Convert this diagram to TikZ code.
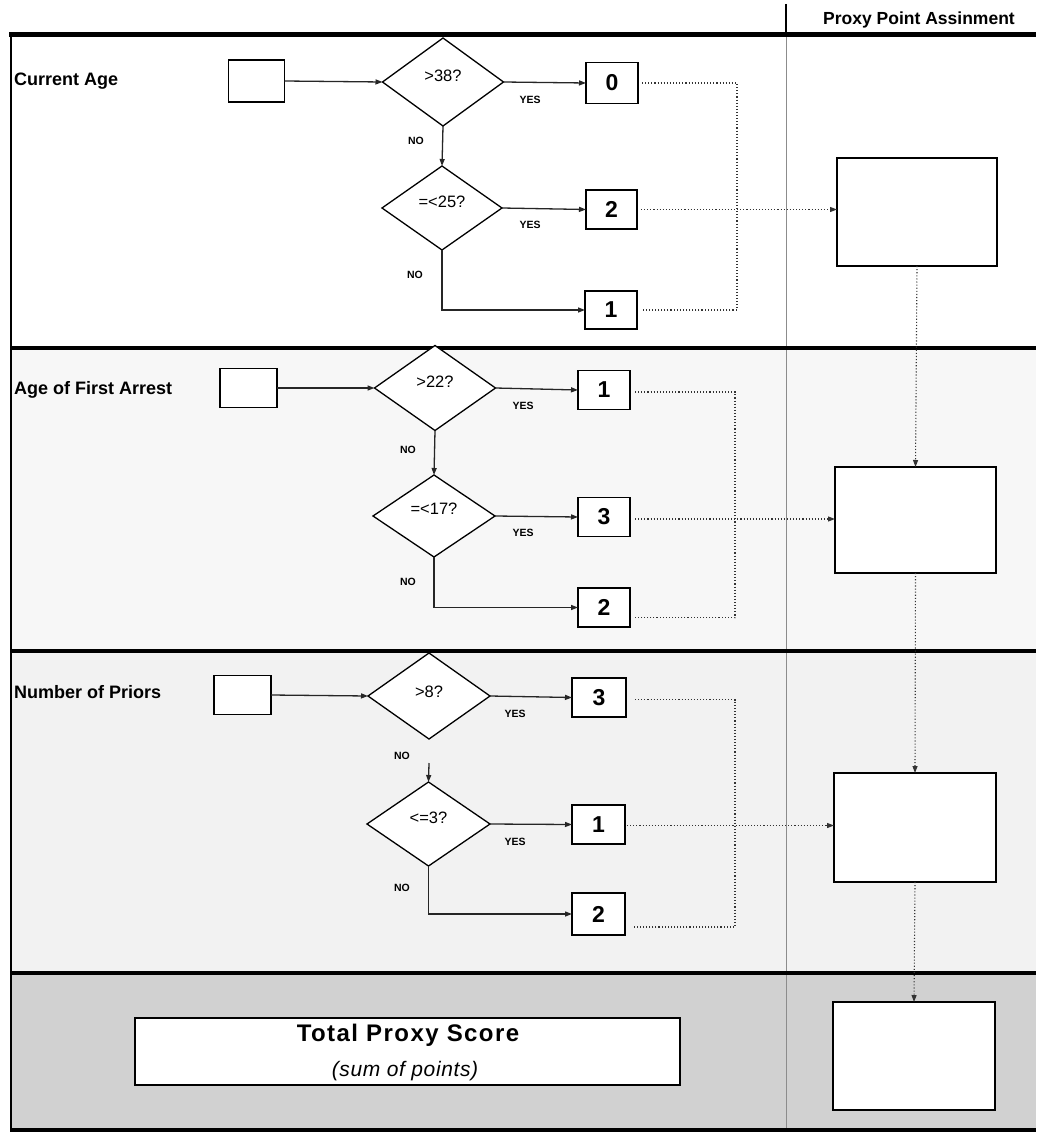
\documentclass[tikz,border=0pt]{standalone}
\usepackage{fontspec}
\setmainfont{Liberation Sans}
\usetikzlibrary{shapes.geometric,arrows.meta}
\tikzset{
 conn/.style={draw=black!85, line width=1.3pt, -{Triangle[length=7pt,width=5pt]}},
 numbox/.style={draw, line width=1.6pt, fill=white, font=\bfseries\fontsize{23}{24}\selectfont, inner sep=0pt, outer sep=0pt},
 inbox/.style={draw, line width=1.3pt, fill=white, inner sep=0pt, outer sep=0pt},
 dec/.style={diamond, draw, line width=1.3pt, fill=white, inner sep=0pt, outer sep=0pt},
 dectext/.style={font=\fontsize{16.5}{18}\selectfont, inner sep=0pt},
 yn/.style={font=\bfseries\fontsize{10.5}{12}\selectfont, inner sep=0pt},
 seclabel/.style={anchor=west, font=\bfseries\fontsize{18}{20}\selectfont, inner sep=0pt},
 dotline/.style={draw=black!80, dotted, line width=1.1pt},
 dotarrow/.style={dotline, -{Triangle[length=7pt,width=5pt]}},
 proxybox/.style={draw, line width=1.6pt, fill=white, inner sep=0pt, outer sep=0pt},
 sepline/.style={line width=3.5pt, black},
}
\begin{document}
\begin{tikzpicture}[x=1pt,y=-1pt]
\useasboundingbox (0,0) rectangle (1036,1134);
% backgrounds
\fill[white] (0,0) rectangle (1036,1134);
\fill[black!3] (11,348) rectangle (1036,651);
\fill[black!5] (11,651) rectangle (1036,973);
\fill[black!18] (11,973) rectangle (1036,1130);
% column line
\draw[line width=1.3pt] (786,4) -- (786,33);
\draw[black!45, line width=0.7pt] (786,37) -- (786,1130);
% frame
\draw[line width=5pt] (9,35) -- (1036,35);
\draw[sepline] (10,348) -- (1036,348);
\draw[sepline] (10,651) -- (1036,651);
\draw[sepline] (10,973) -- (1036,973);
\draw[sepline] (10,1130) -- (1036,1130);
\draw[line width=2.5pt] (11,33) -- (11,1132);
% header
\node[font=\bfseries\fontsize{17.5}{19}\selectfont, inner sep=0pt] (hdr) at (919,20) {Proxy Point Assinment};

% ===== Section 1 =====
\node[seclabel] (l1) at (14,81) {Current Age};
\node[inbox, minimum width=56pt, minimum height=42pt] (in1) at (256.5,81) {};
\node[dec, minimum width=121pt, minimum height=88pt] (d1a) at (443,82) {};
\node[dectext] (t1a) at ([yshift=6pt]d1a.center) {>38?};
\node[dec, minimum width=120pt, minimum height=84pt] (d1b) at (442,208) {};
\node[dectext] (t1b) at ([yshift=6pt]d1b.center) {=<25?};
\node[numbox, minimum width=52pt, minimum height=41pt] (b1a) at (612,83) {0};
\node[numbox, minimum width=51pt, minimum height=39pt] (b1b) at (611.5,209.5) {2};
\node[numbox, minimum width=52pt, minimum height=38pt] (b1c) at (611,310) {1};
\node[yn] (y1a) at (530,100) {YES};
\node[yn] (y1b) at (530,225) {YES};
\node[yn] (n1a) at (416,141) {NO};
\node[yn] (n1b) at (415,275) {NO};
\node[proxybox, minimum width=160pt, minimum height=108pt] (p1) at (917,212) {};
\draw[conn] (in1.east) -- (d1a.west);
\draw[conn] (d1a.east) -- (b1a.west);
\draw[conn] (d1a.south) -- (d1b.north);
\draw[conn] (d1b.east) -- (b1b.west);
\draw[conn] (d1b.south) |- (b1c.west);
\draw[dotline] ([xshift=4pt]b1a.east) -| ([xshift=100pt]b1c.east) -- ([xshift=4pt]b1c.east);
\draw[dotarrow] ([xshift=4pt]b1b.east) -- (b1b.east -| p1.west);

% ===== Section 2 =====
\node[seclabel] (l2) at (14,390) {Age of First Arrest};
\node[inbox, minimum width=57pt, minimum height=39pt] (in2) at (248.5,388) {};
\node[dec, minimum width=121pt, minimum height=85pt] (d2a) at (435,388) {};
\node[dectext] (t2a) at ([yshift=6pt]d2a.center) {>22?};
\node[dec, minimum width=122pt, minimum height=82pt] (d2b) at (434,516) {};
\node[dectext] (t2b) at ([yshift=7pt]d2b.center) {=<17?};
\node[numbox, minimum width=52pt, minimum height=39pt] (b2a) at (604,390) {1};
\node[numbox, minimum width=52pt, minimum height=39pt] (b2b) at (604,517) {3};
\node[numbox, minimum width=52pt, minimum height=39pt] (b2c) at (604,607.5) {2};
\node[yn] (y2a) at (523,406) {YES};
\node[yn] (y2b) at (523,533) {YES};
\node[yn] (n2a) at (408,450) {NO};
\node[yn] (n2b) at (408,582) {NO};
\node[proxybox, minimum width=161pt, minimum height=106pt] (p2) at (915.5,520) {};
\draw[conn] (in2.east) -- (d2a.west);
\draw[conn] (d2a.east) -- (b2a.west);
\draw[conn] (d2a.south) -- (d2b.north);
\draw[conn] (d2b.east) -- (b2b.west);
\draw[conn] (d2b.south) |- (b2c.west);
\draw[dotline] ([xshift=5pt,yshift=-2pt]b2a.east) -| ([xshift=105pt,yshift=-10pt]b2c.east) -- ([xshift=5pt,yshift=-10pt]b2c.east);
\draw[dotarrow] ([xshift=5pt,yshift=-2pt]b2b.east) -- ([yshift=-2pt]b2b.east -| p2.west);
\draw[dotarrow] (p1.south) -- (p2.north);

% ===== Section 3 =====
\node[seclabel] (l3) at (14,692) {Number of Priors};
\node[inbox, minimum width=57pt, minimum height=39pt] (in3) at (242.5,695) {};
\node[dec, minimum width=122pt, minimum height=86pt] (d3a) at (429,696) {};
\node[dectext] (t3a) at ([yshift=4pt]d3a.center) {>8?};
\node[dec, minimum width=123pt, minimum height=84pt] (d3b) at (428.5,824) {};
\node[dectext] (t3b) at ([yshift=6pt]d3b.center) {<=3?};
\node[numbox, minimum width=54pt, minimum height=39pt] (b3a) at (599,697.5) {3};
\node[numbox, minimum width=53pt, minimum height=39pt] (b3b) at (598.5,824.5) {1};
\node[numbox, minimum width=53pt, minimum height=42pt] (b3c) at (598.5,914) {2};
\node[yn] (y3a) at (515,714) {YES};
\node[yn] (y3b) at (515,842) {YES};
\node[yn] (n3a) at (402,756) {NO};
\node[yn] (n3b) at (402,888) {NO};
\node[proxybox, minimum width=162pt, minimum height=109pt] (p3) at (915,827.5) {};
\draw[conn] (in3.east) -- (d3a.west);
\draw[conn] (d3a.east) -- (b3a.west);
\draw[conn] ([yshift=-24pt]d3a.south) -- (d3b.north);
\draw[conn] (d3b.east) -- (b3b.west);
\draw[conn] (d3b.south) |- (b3c.west);
\draw[dotline] ([xshift=9pt,yshift=-2pt]b3a.east) -| ([xshift=110pt,yshift=-13pt]b3c.east) -- ([xshift=9pt,yshift=-13pt]b3c.east);
\draw[dotarrow] ([xshift=2pt,yshift=-1pt]b3b.east) -- ([yshift=-1pt]b3b.east -| p3.west);
\draw[dotarrow] (p2.south) -- (p3.north);

% ===== Section 4 =====
\node[draw, line width=1.6pt, fill=white, minimum width=545pt, minimum height=67pt, inner sep=0pt] (tot) at (407.5,1051.5) {};
\node[font=\bfseries\fontsize{24}{26}\selectfont\addfontfeature{LetterSpace=6}, inner sep=0pt] (tott) at (408,1035) {Total Proxy Score};
\node[font=\itshape\fontsize{21}{23}\selectfont\addfontfeature{LetterSpace=3}, inner sep=0pt] (tots) at (405,1071) {(sum of points)};
\node[proxybox, line width=2.6pt, minimum width=162pt, minimum height=108pt] (p4) at (914,1056) {};
\draw[dotarrow] (p3.south) -- (p4.north);
\end{tikzpicture}
\end{document}
